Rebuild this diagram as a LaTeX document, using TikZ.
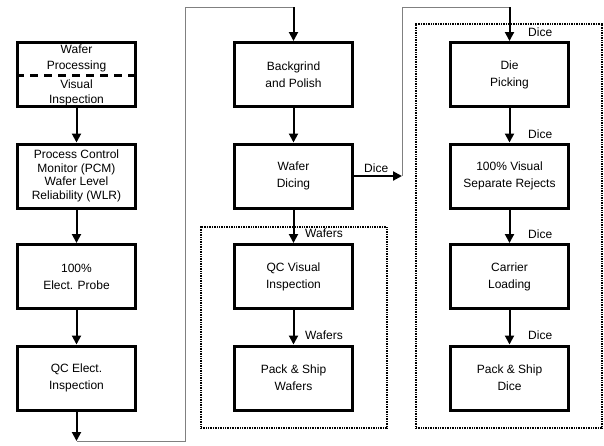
\documentclass[tikz,border=0pt]{standalone}
\usepackage{fontspec}
\setmainfont{Liberation Sans}
\usetikzlibrary{arrows.meta}
\begin{document}
\begin{tikzpicture}[x=1pt,y=-1pt,
 box/.style={draw,line width=3pt,minimum width=118pt,minimum height=64pt,align=center,inner sep=0pt,font=\fontsize{12}{17}\selectfont},
 txt/.style={anchor=base,inner sep=0pt,font=\fontsize{12}{17}\selectfont},
 flow/.style={line width=2pt,-{Triangle[length=9pt,width=9pt]}},
 link/.style={draw=gray,line width=1pt},
 lab/.style={font=\fontsize{12}{14}\selectfont,inner sep=0pt,anchor=west},
 group/.style={draw,line width=1.3pt,dash pattern=on 1pt off 0.7pt,inner sep=0pt}]
\useasboundingbox (0,0) rectangle (604,445);
% groups
\node[group,minimum width=186pt,minimum height=201pt] (gw) at (294,327.5) {};
\node[group,minimum width=186pt,minimum height=404pt] (gd) at (509,226) {};
% column 1
\node[box] (wp) at (76.5,74.5) {};
\node[txt] (wpt1) at (76.5,53.3) {Wafer};
\node[txt] (wpt2) at (76.5,69) {Processing};
\node[txt] (wpb1) at (76.5,88.3) {Visual};
\node[txt] (wpb2) at (76.5,103.5) {Inspection};
\draw[line width=3pt,dash pattern=on 8pt off 6pt] (wp.west |- 0,75) -- (wp.east |- 0,75);
\node[box,font=\fontsize{12}{13.6}\selectfont] (pcm) at (76.5,176) {Process Control\\Monitor (PCM)\\Wafer Level\\Reliability (WLR)};
\node[box] (ep) at (76.5,276.5) {100\%\\Elect. Probe};
\node[box] (qce) at (76.5,378) {QC Elect.\\Inspection};
% column 2
\node[box] (bg) at (293.5,74.5) {Backgrind\\and Polish};
\node[box] (wd) at (293.5,176) {Wafer\\Dicing};
\node[box] (qcv) at (293.5,276.5) {QC Visual\\Inspection};
\node[box] (psw) at (293.5,378) {Pack \& Ship\\Wafers};
% column 3
\node[box] (dp) at (509.5,74.5) {Die\\Picking};
\node[box] (vis) at (509.5,176) {100\% Visual\\Separate Rejects};
\node[box] (cl) at (509.5,276.5) {Carrier\\Loading};
\node[box] (psd) at (509.5,378) {Pack \& Ship\\Dice};
% flows column 1
\draw[flow] (wp) -- (pcm);
\draw[flow] (pcm) -- (ep);
\draw[flow] (ep) -- (qce);
\coordinate (c1) at (76.5,441);
\coordinate (c2) at (185,441);
\coordinate (c3) at (293.5,7);
\draw[flow] (qce) -- (c1);
\draw[link] (c1) -- (c2) |- (c3);
\draw[flow] (c3) -- (bg);
% column 2
\draw[flow] (bg) -- (wd);
\draw[flow] (wd) -- (qcv);
\draw[flow] (qcv) -- (psw);
\coordinate (d1) at (402,176);
\coordinate (d2) at (509.5,7);
\draw[flow] (wd.east) -- (d1);
\draw[link] (d1) |- (d2);
\draw[flow] (d2) -- (dp);
% column 3
\draw[flow] (dp) -- (vis);
\draw[flow] (vis) -- (cl);
\draw[flow] (cl) -- (psd);
% labels
\node[lab] (lw1) at (305,233) {Wafers};
\node[lab] (lw2) at (305,335) {Wafers};
\node[lab] (ld0) at (364,168) {Dice};
\node[lab] (ld1) at (528,32) {Dice};
\node[lab] (ld2) at (528,134) {Dice};
\node[lab] (ld3) at (528,234) {Dice};
\node[lab] (ld4) at (528,335) {Dice};
\end{tikzpicture}
\end{document}
